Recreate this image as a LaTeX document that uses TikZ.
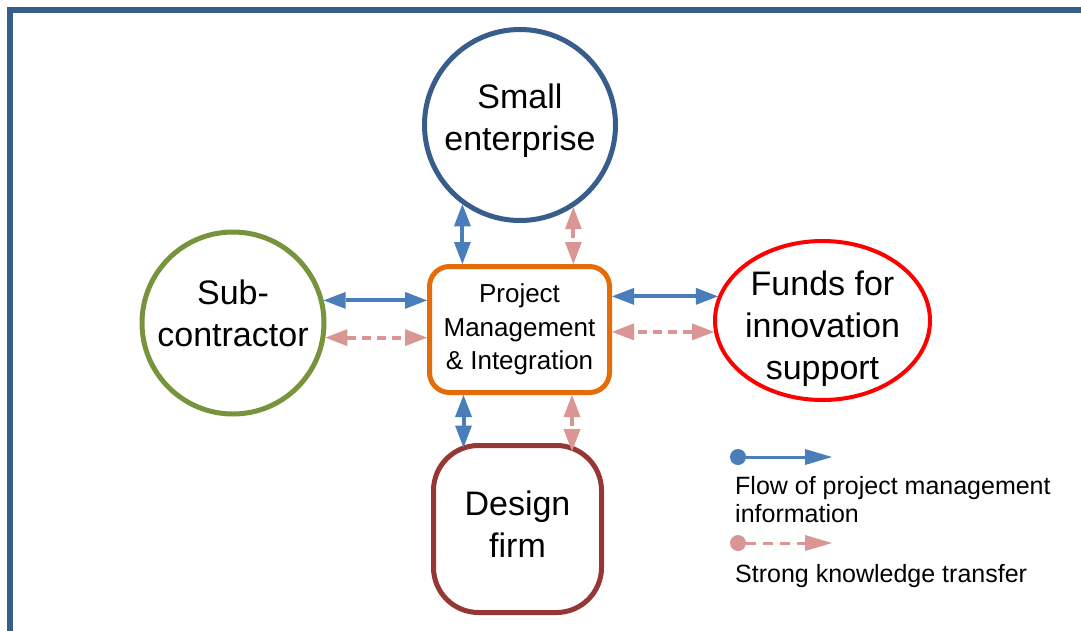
\documentclass[tikz,border=0pt]{standalone}
\usepackage{fontspec}
\setmainfont{Liberation Sans}
\usetikzlibrary{arrows.meta,shapes.geometric,calc}
\definecolor{frameblue}{HTML}{385D8A}
\definecolor{flowblue}{HTML}{4A7EBB}
\definecolor{knowpink}{HTML}{D99694}
\definecolor{subgreen}{HTML}{77933C}
\definecolor{designred}{HTML}{953735}
\definecolor{pmorange}{HTML}{E46C0A}
\definecolor{fundsred}{HTML}{FF0000}
\tikzset{
  bigtxt/.style={font=\fontsize{34}{42}\selectfont, align=center, inner sep=0pt, text=black},
  pmtxt/.style={font=\fontsize{26}{33.5}\selectfont, align=center},
  legtxt/.style={font=\fontsize{25}{28}\selectfont, align=left, inner sep=0pt},
  flow/.style={line width=4pt, draw=flowblue, fill=flowblue, {Triangle[length=22pt,width=17pt,line width=0pt]}-{Triangle[length=22pt,width=17pt,line width=0pt]}},
  know/.style={line width=4pt, draw=knowpink, fill=knowpink, dash pattern=on 9pt off 6pt, {Triangle[length=22pt,width=17pt,line width=0pt]}-{Triangle[length=22pt,width=17pt,line width=0pt]}},
  flowleg/.style={line width=3pt, draw=flowblue, fill=flowblue, {Circle[length=16pt,line width=0pt]}-{Triangle[length=27pt,width=16pt,line width=0pt]}},
  knowleg/.style={line width=3pt, draw=knowpink, fill=knowpink, dash pattern=on 10pt off 7pt, {Circle[length=16pt,line width=0pt]}-{Triangle[length=27pt,width=16pt,line width=0pt]}},
}
\begin{document}
\begin{tikzpicture}[x=1pt,y=-1pt]
\useasboundingbox (0,0) rectangle (1081,630);
\clip (0,0) rectangle (1081,630);
\fill[white] (0,0) rectangle (1081,630);
% frame
\draw[frameblue, line width=6pt] (10,650) -- (10,10) -- (1100,10);
% nodes
\node[circle, draw=frameblue, line width=5pt, minimum size=191pt, inner sep=0pt,
  label={[bigtxt,yshift=4.75pt]center:Small\\enterprise}] (se) at (520,125) {};
\node[circle, draw=subgreen, line width=5pt, minimum size=182pt, inner sep=0pt,
  label={[bigtxt,yshift=10pt]center:Sub-\\contractor}] (sc) at (233,323) {};
\node[ellipse, draw=fundsred, line width=4pt, minimum width=215pt, minimum height=159pt, inner sep=0pt,
  label={[bigtxt,yshift=-8pt]center:Funds for\\innovation\\support}] (fe) at (822.5,320.5) {};
\node[rectangle, rounded corners=20pt, draw=pmorange, line width=5pt, minimum width=180pt, minimum height=126pt, inner sep=0pt, pmtxt] (pm) at (519.5,329.5) {Project\\Management\\\& Integration};
\node[rectangle, rounded corners=45pt, draw=designred, line width=5pt, minimum width=168pt, minimum height=167pt, inner sep=0pt,
  label={[bigtxt,yshift=5pt]center:Design\\firm}] (df) at (517.5,529) {};
% connectors
\draw[flow] (se.234.8) -- (se.234.8 |- pm.north);
\draw[know] (se.303.7) -- (se.303.7 |- pm.north);
\draw[flow] (sc.14.6) -- (sc.14.6 -| pm.west);
\draw[know] (sc.351.2) -- (sc.351.2 -| pm.west);
\draw[flow] (fe.167.7) -- (fe.167.7 -| pm.east);
\draw[know] (fe.186.2) -- (fe.186.2 -| pm.east);
\draw[flow] ($(pm.south)+(-56,0)$) -- ($(df.north)+(-54,4.5)$);
\draw[know] ($(pm.south)+(52.5,0)$) -- ($(df.north)+(54.5,8)$);
% legend
\coordinate (l1a) at (730,457);
\coordinate (l1b) at (832,457);
\coordinate (l2a) at (730,543);
\coordinate (l2b) at (832,543);
\draw[flowleg] (l1a) -- (l1b);
\draw[knowleg] (l2a) -- (l2b);
\node[legtxt, anchor=north west] (t1) at (735,476) {Flow of project management\\information};
\node[legtxt, anchor=base west] (t2) at (735,582) {Strong knowledge transfer};
\end{tikzpicture}
\end{document}
